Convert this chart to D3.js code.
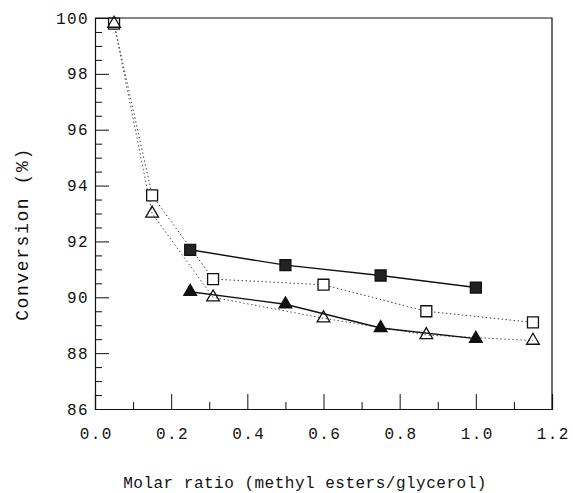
<!DOCTYPE html>
<html>
<head>
<meta charset="utf-8">
<script src="https://cdn.jsdelivr.net/npm/d3@7"></script>
<style>
body{margin:0;background:#fff;}
svg text{font-family:"Liberation Mono","DejaVu Sans Mono",monospace;fill:#111;}
</style>
</head>
<body>
<script>
// values
let xTicks=[0,0.2,0.4,0.6,0.8,1.0,1.2];
let yTicks=[86,88,90,92,94,96,98,100];

let xFilled=[0.25,0.5,0.75,1.0];
let yFilledSq=[91.7,91.15,90.78,90.35];
let yFilledTri=[90.2,89.75,88.9,88.52];

let xOpen=[0.05,0.15,0.31,0.6,0.87,1.15];
let yOpenSq=[99.8,93.65,90.65,90.45,89.5,89.1];
let yOpenTri=[99.8,93.0,90.0,89.25,88.65,88.45];

const W=573,H=493;
let svg=d3.select("body").append("svg").attr("width",W).attr("height",H);

let x=d3.scaleLinear().domain([0,1.2]).range([95,552]);
let y=d3.scaleLinear().domain([86,100]).range([409,18]);

// frame (top, right)
svg.append("path")
    .attr("d",`M${x(0)},${y(100)}H${x(1.2)}V${y(86)}`)
    .attr("fill","none").attr("stroke","#111").attr("stroke-width",1.2);

// minor ticks
let xMinor=d3.range(0.1,1.2,0.2);
let yMinor=d3.range(86.5,100,0.5).filter(v=>Math.abs(v-Math.round(v/2)*2)>0.01);

let gx=svg.append("g").attr("transform",`translate(0,${y(86)})`)
    .call(d3.axisBottom(x).tickValues(xTicks).tickSize(-15).tickPadding(24)
        .tickFormat(d3.format(".1f")));
svg.append("g").attr("transform",`translate(0,${y(86)})`)
    .call(d3.axisBottom(x).tickValues(xMinor).tickSize(-7).tickFormat(""))
    .select(".domain").remove();

let gy=svg.append("g").attr("transform",`translate(${x(0)},0)`)
    .call(d3.axisLeft(y).tickValues(yTicks).tickSize(-14).tickPadding(20));
svg.append("g").attr("transform",`translate(${x(0)},0)`)
    .call(d3.axisLeft(y).tickValues(yMinor).tickSize(-7).tickFormat(""))
    .select(".domain").remove();

svg.selectAll(".domain").attr("stroke","#111").attr("stroke-width",1.2);
svg.selectAll(".tick line").attr("stroke","#111");
svg.selectAll(".tick text").style("font-size","16px").style("letter-spacing","1.4px");
gx.selectAll(".tick text").attr("dy","0.35em").attr("dx","0.05em");
gy.selectAll(".tick text").attr("x",-6);

// axis titles
svg.append("text").attr("x",305).attr("y",488).attr("text-anchor","middle")
    .style("font-size","16px").style("letter-spacing","0.5px")
    .text("Molar ratio (methyl esters/glycerol)");
svg.append("text").attr("transform","translate(28,234) rotate(-90)")
    .attr("text-anchor","middle").style("font-size","18px").style("letter-spacing","1.6px")
    .text("Conversion (%)");

// lines
let line=d3.line().x(d=>x(d[0])).y(d=>y(d[1]));
let series=[
  {xs:xOpen,ys:yOpenSq,dash:"1.5,2.5",w:1,col:"#444",sym:"sq",fill:"#fff"},
  {xs:xOpen,ys:yOpenTri,dash:"1.5,2.5",w:1,col:"#555",sym:"tri",fill:"#fff"},
  {xs:xFilled,ys:yFilledTri,dash:null,w:1.4,col:"#111",sym:"tri",fill:"#111"},
  {xs:xFilled,ys:yFilledSq,dash:null,w:1.4,col:"#111",sym:"sq",fill:"#222"}
];
series.forEach(s=>{
    let pts=s.xs.map((v,i)=>[v,s.ys[i]]);
    svg.append("path").datum(pts).attr("d",line)
        .attr("fill","none").attr("stroke",s.col).attr("stroke-width",s.w)
        .attr("stroke-dasharray",s.dash);
});
series.forEach(s=>{
    let pts=s.xs.map((v,i)=>[v,s.ys[i]]);
    let sym=s.sym=="sq"?d3.symbol(d3.symbolSquare,120):d3.symbol(d3.symbolTriangle,70);
    svg.append("g").selectAll("path").data(pts).enter().append("path")
        .attr("d",sym)
        .attr("transform",d=>`translate(${x(d[0])},${y(d[1])})`)
        .attr("fill",s.fill).attr("stroke","#111").attr("stroke-width",1.3)
        .attr("fill-opacity",s.fill=="#fff"&&s.sym=="tri"?0:1);
});
</script>
</body>
</html>
